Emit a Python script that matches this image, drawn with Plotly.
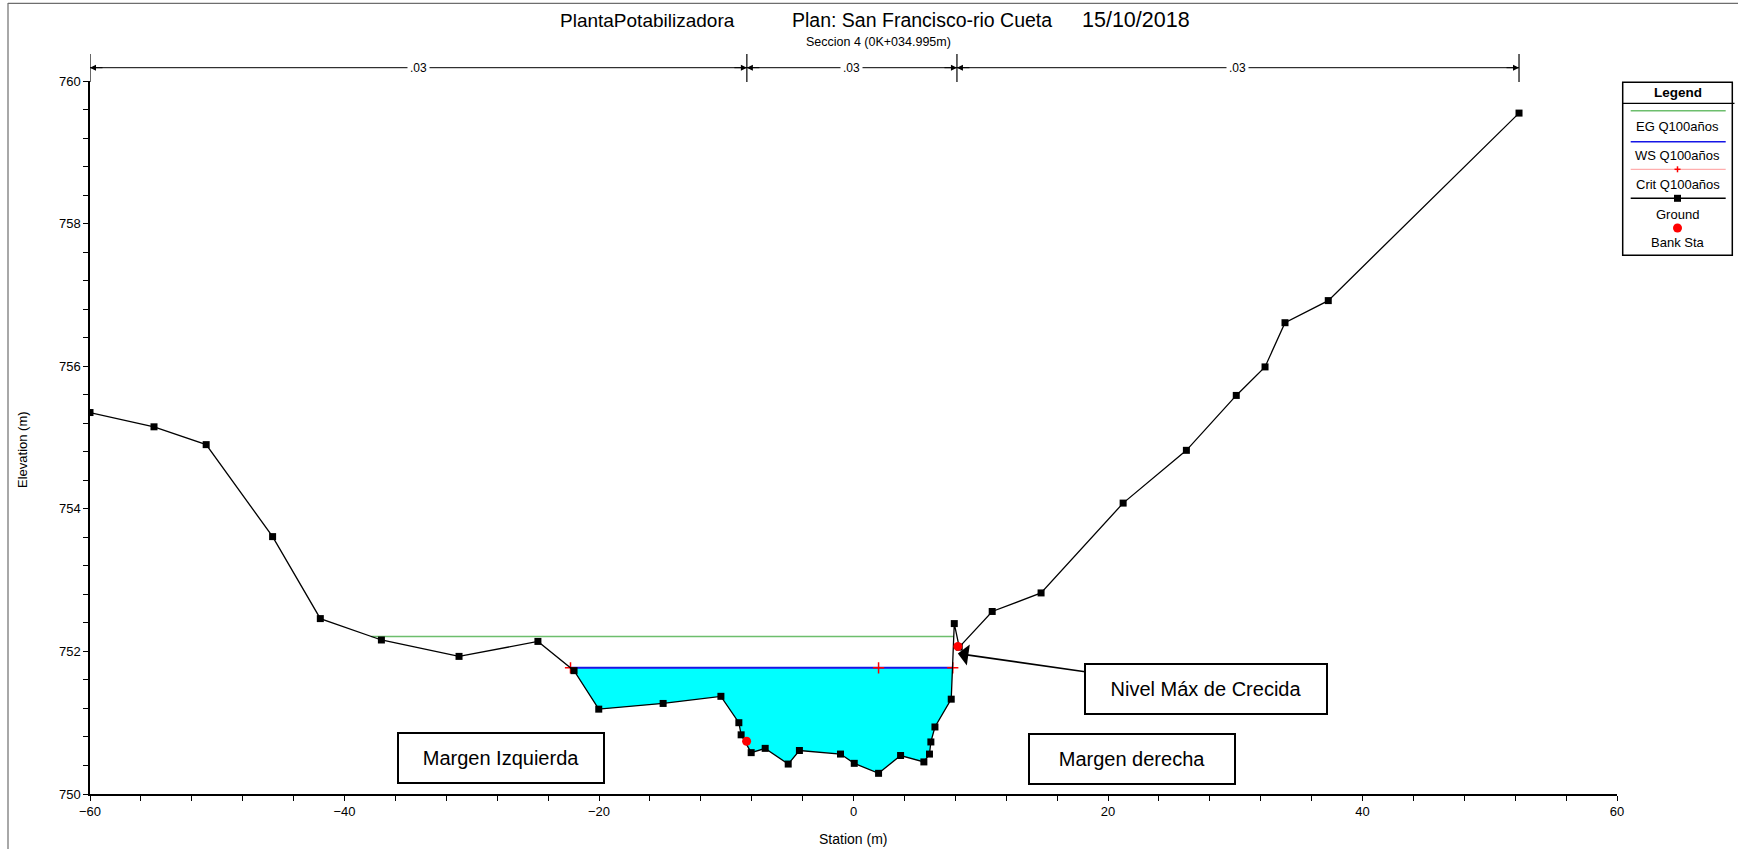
import numpy as np
import plotly.graph_objects as go

# ---- Cross-section data (Seccion 4) ----
station = [-60.0, -54.97, -50.87, -45.65, -41.9, -37.1, -31.0, -24.8, -21.96, -20.02,
           -14.96, -10.42, -9.01, -8.83, -8.04, -6.94, -5.13, -4.25, -1.02, 0.06,
           1.97, 3.70, 5.53, 5.97, 6.08, 6.40, 7.68, 7.92, 8.31, 10.9,
           14.74, 21.19, 26.16, 30.08, 32.34, 33.91, 37.31, 52.3]
elevation = [755.35, 755.15, 754.90, 753.61, 752.46, 752.16, 751.93, 752.14, 751.73, 751.19,
             751.27, 751.37, 751.00, 750.83, 750.58, 750.64, 750.42, 750.61, 750.56, 750.43,
             750.29, 750.54, 750.45, 750.56, 750.73, 750.94, 751.33, 752.39, 752.06, 752.56,
             752.82, 754.08, 754.82, 755.59, 755.99, 756.61, 756.92, 759.55]

ws_elev = 751.77          # WS Q100años
eg_elev = 752.21          # EG Q100años
crit_station = [-22.24, 1.97, 7.80]
crit_elev = [751.77, 751.77, 751.77]
bank_station = [-8.40, 8.20]
bank_elev = [750.74, 752.07]

manning_breaks = [-60.0, -8.38, 8.13, 52.3]
manning_n = [0.03, 0.03, 0.03]

# ---- page geometry (pixels) ----
W, H = 1738, 849
L, R, T, B = 90, 121, 81, 55
PW, PH = W - L - R, H - T - B


def px2x(px):
    return (px - L) / PW


def px2y(py):
    return (H - B - py) / PH


FONT = "Liberation Sans, Arial, sans-serif"

sta = np.array(station)
elv = np.array(elevation)


def crossing(level, lo, hi):
    """station where the ground between two indices crosses a level"""
    for i in range(lo, hi):
        a, b = elv[i], elv[i + 1]
        if (a - level) * (b - level) <= 0 and a != b:
            return sta[i] + (level - a) / (b - a) * (sta[i + 1] - sta[i])
    return None


# water surface extents in the main channel
ws_left = crossing(ws_elev, 7, 9)
ws_right = crossing(ws_elev, 26, 28)
eg_left = crossing(eg_elev, 4, 6)
eg_right = crossing(eg_elev, 26, 28)

inside = (sta > ws_left) & (sta < ws_right)
poly_x = [ws_left] + list(sta[inside]) + [ws_right]
poly_y = [ws_elev] + list(elv[inside]) + [ws_elev]

fig = go.Figure()

# water fill
fig.add_trace(go.Scatter(x=poly_x, y=poly_y, fill="toself", fillcolor="#00FFFF",
                         line=dict(width=0), mode="lines", hoverinfo="skip"))
# energy grade line
fig.add_trace(go.Scatter(x=[eg_left, eg_right], y=[eg_elev, eg_elev], mode="lines",
                         line=dict(color="#6DBE6D", width=1.5)))
# critical depth line
fig.add_trace(go.Scatter(x=[ws_left, ws_right], y=[ws_elev, ws_elev], mode="lines",
                         line=dict(color="#FF9A9A", width=1)))
# water surface
fig.add_trace(go.Scatter(x=[ws_left, ws_right], y=[ws_elev, ws_elev], mode="lines",
                         line=dict(color="#1515E6", width=2)))
# critical markers
fig.add_trace(go.Scatter(x=crit_station, y=crit_elev, mode="markers",
                         marker=dict(symbol="cross-thin", size=8, color="#FF0000",
                                     line=dict(color="#FF0000", width=1.5))))
# ground
fig.add_trace(go.Scatter(x=station, y=elevation, mode="lines+markers",
                         line=dict(color="black", width=1.3),
                         marker=dict(symbol="square", size=7, color="black")))
# bank stations
fig.add_trace(go.Scatter(x=bank_station, y=bank_elev, mode="markers",
                         marker=dict(symbol="circle", size=9, color="#FF0000")))

shapes = []
annotations = []


def label(x, y, text, size, xref="paper", yref="paper", **kw):
    d = dict(x=x, y=y, xref=xref, yref=yref, text=text, showarrow=False,
             xanchor="center", yanchor="middle",
             font=dict(family=FONT, size=size, color="black"))
    d.update(kw)
    annotations.append(d)


# ---- Manning's n bar above the plot ----
bar_y = px2y(67.7)
shapes.append(dict(type="line", xref="x", yref="paper", x0=manning_breaks[0], x1=manning_breaks[-1],
                   y0=bar_y, y1=bar_y, line=dict(color="black", width=1)))
for b in manning_breaks:
    shapes.append(dict(type="line", xref="x", yref="paper", x0=b, x1=b,
                       y0=px2y(54), y1=px2y(82), line=dict(color="black", width=1.2)))
for i, n in enumerate(manning_n):
    a, b = manning_breaks[i], manning_breaks[i + 1]
    annotations.append(dict(x=a, y=bar_y, xref="x", yref="paper", ax=14, ay=0, text="",
                            showarrow=True, arrowhead=2, arrowsize=1.2, arrowwidth=1,
                            arrowcolor="black", standoff=0))
    annotations.append(dict(x=b, y=bar_y, xref="x", yref="paper", ax=-14, ay=0, text="",
                            showarrow=True, arrowhead=2, arrowsize=1.2, arrowwidth=1,
                            arrowcolor="black", standoff=0))
    label((a + b) / 2, bar_y, ("%.2f" % n).lstrip("0"), 12, xref="x",
          bgcolor="white", borderpad=2)

# ---- titles ----
label(px2x(647.5), px2y(20), "PlantaPotabilizadora", 19)
label(px2x(921.7), px2y(20), "Plan: San Francisco-rio Cueta", 19.5)
label(px2x(1136), px2y(20), "15/10/2018", 21.5)
label(px2x(878.6), px2y(42), "Seccion 4 (0K+034.995m)", 12.5)
label(px2x(853), px2y(839), "Station (m)", 14)
label(px2x(22), px2y(450), "Elevation (m)", 13, textangle=-90)

# ---- callouts ----
annotations.append(dict(x=8.2, y=751.97, xref="x", yref="y", ax=27.71, ay=751.47,
                        axref="x", ayref="y", text="Nivel Máx de Crecida", showarrow=True,
                        arrowhead=1, arrowsize=2.2, arrowwidth=1.6, arrowcolor="black",
                        bordercolor="black", borderwidth=2, borderpad=2, bgcolor="white",
                        width=236, height=44,
                        font=dict(family=FONT, size=20, color="black")))
label(-27.73, 750.505, "Margen Izquierda", 20, xref="x", yref="y",
      bordercolor="black", borderwidth=2, borderpad=2, bgcolor="white", width=200, height=44)
label(21.91, 750.49, "Margen derecha", 20, xref="x", yref="y",
      bordercolor="black", borderwidth=2, borderpad=2, bgcolor="white", width=200, height=44)

# ---- legend panel ----
lx0, lx1, ly0, ly1 = 1622.7, 1732.3, 82.3, 255.3
shapes.append(dict(type="rect", xref="paper", yref="paper", x0=px2x(lx0), x1=px2x(lx1),
                   y0=px2y(ly0), y1=px2y(ly1), line=dict(color="black", width=1.5),
                   fillcolor="white"))
shapes.append(dict(type="line", xref="paper", yref="paper", x0=px2x(lx0), x1=px2x(1734.5),
                   y0=px2y(103.3), y1=px2y(103.3), line=dict(color="black", width=1.3)))
cx = 1677.5
label(px2x(cx), px2y(92.5), "<b>Legend</b>", 13.5)
items = [("EG Q100años", "#6DBE6D", 110.7, 126.7, None),
         ("WS Q100años", "#1515E6", 141.7, 155.0, None),
         ("Crit Q100años", "#FF9A9A", 169.3, 184.3, "cross"),
         ("Ground", "black", 198.3, 214.0, "square"),
         ("Bank Sta", None, 228.0, 242.7, "dot")]
for text, col, ly, ty, mk in items:
    if col is not None:
        shapes.append(dict(type="line", xref="paper", yref="paper", x0=px2x(1630.7),
                           x1=px2x(1725.7), y0=px2y(ly), y1=px2y(ly),
                           line=dict(color=col, width=1.5 if col != "#FF9A9A" else 1)))
    if mk == "cross":
        shapes.append(dict(type="line", xref="paper", yref="paper", x0=px2x(cx - 3),
                           x1=px2x(cx + 3), y0=px2y(ly), y1=px2y(ly),
                           line=dict(color="#FF0000", width=1.5)))
        shapes.append(dict(type="line", xref="paper", yref="paper", x0=px2x(cx),
                           x1=px2x(cx), y0=px2y(ly - 3), y1=px2y(ly + 3),
                           line=dict(color="#FF0000", width=1.5)))
    elif mk == "square":
        shapes.append(dict(type="rect", xref="paper", yref="paper", x0=px2x(cx - 3.5),
                           x1=px2x(cx + 3.5), y0=px2y(ly - 3.5), y1=px2y(ly + 3.5),
                           line=dict(width=0), fillcolor="black"))
    elif mk == "dot":
        shapes.append(dict(type="circle", xref="paper", yref="paper", x0=px2x(cx - 4.5),
                           x1=px2x(cx + 4.5), y0=px2y(ly - 4.5), y1=px2y(ly + 4.5),
                           line=dict(width=0), fillcolor="#FF0000"))
    label(px2x(cx), px2y(ty), text, 13)

# ---- window frame ----
shapes.append(dict(type="line", xref="paper", yref="paper", x0=px2x(8), x1=px2x(8),
                   y0=px2y(3), y1=px2y(849), line=dict(color="#6E6E6E", width=1.2)))
shapes.append(dict(type="line", xref="paper", yref="paper", x0=px2x(8), x1=px2x(1738),
                   y0=px2y(3.3), y1=px2y(3.3), line=dict(color="#6E6E6E", width=1.2)))

fig.update_layout(
    width=W, height=H,
    margin=dict(l=L, r=R, t=T, b=B, pad=0),
    paper_bgcolor="white", plot_bgcolor="white",
    showlegend=False,
    shapes=shapes, annotations=annotations,
    font=dict(family=FONT, color="black"),
    xaxis=dict(range=[-60, 60], tickmode="linear", tick0=-60, dtick=20,
               ticks="outside", ticklen=5, tickwidth=1.2, tickcolor="black",
               minor=dict(dtick=4, tick0=-60, ticks="outside", ticklen=5, tickwidth=1.2,
                          tickcolor="black", showgrid=False),
               showline=True, linecolor="black", linewidth=1.5,
               showgrid=False, zeroline=False,
               tickfont=dict(family=FONT, size=13, color="black")),
    yaxis=dict(range=[750, 760], tickmode="linear", tick0=750, dtick=2,
               ticks="outside", ticklen=5, tickwidth=1.2, tickcolor="black",
               minor=dict(dtick=0.4, tick0=750, ticks="outside", ticklen=5, tickwidth=1.2,
                          tickcolor="black", showgrid=False),
               showline=True, linecolor="black", linewidth=1.5,
               showgrid=False, zeroline=False,
               tickfont=dict(family=FONT, size=13, color="black")),
)

fig.write_html("out.html")
